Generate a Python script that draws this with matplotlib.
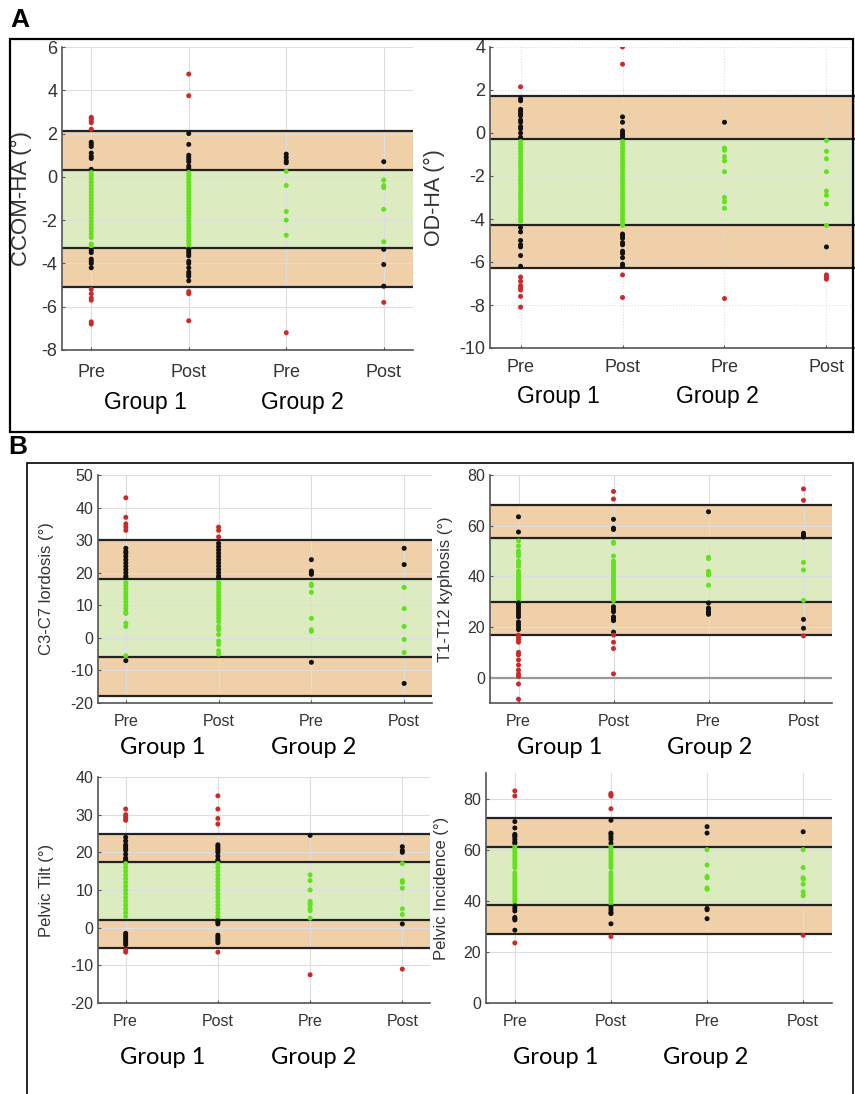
import matplotlib.pyplot as plt
from matplotlib.patches import Rectangle

W, H = 855, 1094

# ---- data ----
phase_labels = ["Pre", "Post", "Pre", "Post"]
group_labels = ["Group 1", "Group 2"]

# band limits: outer top, inner top, inner bottom, outer bottom
ccom_bands = [2.1, 0.3, -3.3, -5.1]
ccom_pre1 = [2.75, 2.7, 2.6, 2.5, 2.2, 1.6, 1.5, 1.4, 1.1, 0.95, 0.85, 0.35, 0.2, 0.05, -0.1,
             -0.25, -0.4, -0.55, -0.7, -0.85, -1.0, -1.15, -1.3, -1.45, -1.6, -1.75, -1.9, -2.05,
             -2.2, -2.35, -2.5, -2.65, -2.8, -3.1, -3.2, -3.4, -3.5, -3.8, -3.9, -4.0, -4.2,
             -5.2, -5.4, -5.6, -5.7, -6.7, -6.8]
ccom_post1 = [4.75, 3.75, 2.0, 1.5, 1.0, 0.9, 0.8, 0.7, 0.5, 0.4, 0.2, 0.05, -0.1, -0.25, -0.4,
              -0.55, -0.7, -0.85, -1.0, -1.15, -1.3, -1.45, -1.6, -1.75, -1.9, -2.05, -2.2, -2.35,
              -2.5, -2.65, -2.8, -2.95, -3.1, -3.25, -3.35, -3.45, -3.55, -3.65, -3.9, -4.0, -4.2,
              -4.4, -4.5, -4.6, -4.8, -5.3, -5.4, -6.65]
ccom_pre2 = [1.05, 0.9, 0.75, 0.65, 0.25, -0.4, -1.6, -2.0, -2.7, -7.2]
ccom_post2 = [0.7, -0.15, -0.4, -0.5, -1.5, -3.0, -3.35, -4.05, -5.05, -5.8]

od_bands = [1.7, -0.3, -4.3, -6.3]
od_pre1 = [2.15, 1.6, 1.5, 1.1, 1.0, 0.9, 0.8, 0.6, 0.5, 0.3, 0.2, 0.0, -0.2, -0.4, -0.55, -0.7,
           -0.85, -1.0, -1.15, -1.3, -1.45, -1.6, -1.75, -1.9, -2.05, -2.2, -2.35, -2.5, -2.65,
           -2.8, -2.95, -3.1, -3.25, -3.4, -3.55, -3.7, -3.85, -4.0, -4.1, -4.4, -4.6, -5.0,
           -5.2, -5.3, -5.7, -6.2, -6.7, -6.9, -7.1, -7.2, -7.3, -7.6, -8.1]
od_post1 = [4.0, 3.2, 0.75, 0.5, 0.1, 0.0, -0.1, -0.2, -0.4, -0.55, -0.7, -0.85, -1.0, -1.15,
            -1.3, -1.45, -1.6, -1.75, -1.9, -2.05, -2.2, -2.35, -2.5, -2.65, -2.8, -2.95, -3.1,
            -3.25, -3.4, -3.55, -3.7, -3.85, -4.0, -4.15, -4.3, -4.7, -4.8, -4.9, -5.1, -5.2,
            -5.5, -5.6, -5.8, -6.1, -6.2, -6.6, -7.65]
od_pre2 = [0.5, -0.7, -0.8, -1.1, -1.3, -1.8, -3.0, -3.2, -3.5, -7.7]
od_post2 = [-0.35, -0.85, -1.2, -1.8, -2.7, -2.9, -3.3, -4.3, -5.3, -6.6, -6.7, -6.8]

lord_bands = [30, 18, -6, -18]
lord_pre1 = [43, 37, 35, 34, 33, 27.5, 26.5, 26, 25, 24, 23, 22, 21, 20, 19, 18.5, 17, 16, 15,
             14, 13, 12, 11, 10, 9, 8, 7.5, 4.5, 3.5, -5.5, -7]
lord_post1 = [34, 33, 31, 29, 28, 27, 26, 25, 24, 23, 22, 21, 20, 19, 18.5, 17, 16, 15, 14, 13,
              12, 11, 10, 9, 8, 7, 6, 5, 3.5, 2.5, 1, -1, -2, -4, -5]
lord_pre2 = [24, 20.5, 20, 19.5, 16.5, 16, 14, 6, 2.5, 2, -7.5]
lord_post2 = [27.5, 22.5, 15.5, 9, 3.5, -0.5, -4.5, -14]

kyph_bands = [68, 55, 30, 17]
kyph_pre1 = [63.5, 57.5, 54, 52, 50, 49, 48, 46, 45, 44, 42, 41, 40, 39, 38, 37, 36, 35, 34, 33,
             32, 31, 30.5, 29.5, 29, 28, 27, 26, 25, 24, 22, 21, 20, 19, 16.8, 16, 15, 14, 10, 9,
             7, 5, 3, 1.5, 0.5, -2.5, -8.5]
kyph_post1 = [73.5, 70.5, 62.5, 59, 58.5, 53.5, 53, 48, 46, 45, 44, 43, 42, 41, 40, 39, 38, 37,
              36, 35, 34, 33, 32, 31, 30.5, 28, 27, 26, 24, 23.5, 23, 22.5, 18, 16.8, 14, 11.5, 1.5]
kyph_pre2 = [65.5, 47.5, 47, 42, 41, 40.5, 36.5, 29.5, 27.5, 27, 26, 25.5, 25]
kyph_post2 = [74.5, 70, 57, 56.5, 56, 55.5, 45.5, 42.5, 30.5, 23, 19.5, 16.5]

tilt_bands = [25, 17.5, 2, -5.5]
tilt_pre1 = [31.5, 30, 29.5, 29, 28.5, 24, 23, 22, 21.5, 21, 20.5, 19.5, 18.5, 18, 17.8, 17, 16,
             15, 14, 13, 12, 11, 10, 9, 8, 7, 6, 5, 4, 3, -1.5, -2, -2.5, -3, -3.5, -4, -4.5,
             -6, -6.5]
tilt_post1 = [35, 31.5, 29, 27.5, 22, 21.5, 21, 20.5, 20, 19, 18, 17.8, 17, 16, 15, 14, 13, 12,
              11, 10, 9, 8, 7, 6, 5, 4, 3, 2.5, 1.8, 1.5, 1, -2, -2.5, -3, -3.5, -4, -6.5]
tilt_pre2 = [24.5, 14, 12.5, 10, 7, 6.5, 6, 5, 4.5, 2.5, -12.5]
tilt_post2 = [21.5, 20.5, 20, 17, 12.5, 12, 10.5, 5, 3.5, 1, -11]

inc_bands = [72.5, 61, 38.5, 27]
inc_pre1 = [83, 81, 71, 68.5, 66, 65.5, 65, 64, 63, 62.5, 61, 60, 59, 58, 57, 56, 55, 54, 53, 51,
            50, 49, 48, 47, 46, 45, 44, 43, 42, 41, 40, 39, 38, 37, 36, 33.5, 33, 32.5, 28.5, 23.5]
inc_post1 = [82, 81.5, 81, 76, 71.5, 66.5, 66, 65, 64, 62.5, 61, 60, 59, 58, 57, 56, 55, 54, 53,
             51, 50, 49, 48, 47, 46, 45, 44, 43, 42, 41, 40, 39, 37.5, 36.5, 35.5, 35, 31, 26]
inc_pre2 = [69, 66.5, 60, 54, 49.5, 49, 45, 44.5, 37, 36.5, 33]
inc_post2 = [67, 60, 53, 49, 48.5, 46.5, 43.5, 42, 26.5]

ORANGE = "#f0d0a8"
LGREEN = "#dcecc0"
RED = "#cc2a2a"
GREEN = "#62e21e"
BLACK = "#111111"


def px_axes(fig, left, top, right, bottom):
    return fig.add_axes([left / W, 1 - bottom / H, (right - left) / W, (bottom - top) / H])


def dot_color(v, bands):
    out_hi, in_hi, in_lo, out_lo = bands
    if in_lo <= v <= in_hi:
        return GREEN
    if out_lo <= v <= out_hi:
        return BLACK
    return RED


def panel(ax, columns, bands, ylim, yticks, xlim, tick_fs, dotted=False, zero_line=False):
    out_hi, in_hi, in_lo, out_lo = bands
    ax.axhspan(in_hi, out_hi, color=ORANGE, zorder=0.2, lw=0)
    ax.axhspan(in_lo, in_hi, color=LGREEN, zorder=0.2, lw=0)
    ax.axhspan(out_lo, in_lo, color=ORANGE, zorder=0.2, lw=0)
    for b in bands:
        ax.axhline(b, color="#222222", lw=1.6, zorder=2)
    if zero_line:
        ax.axhline(0, color="#999999", lw=1.6, zorder=2)
    for i, col in enumerate(columns):
        ax.scatter([i + 1] * len(col), col, c=[dot_color(v, bands) for v in col],
                   s=13, linewidths=0, zorder=3)
    ax.set_xlim(*xlim)
    ax.set_ylim(*ylim)
    ax.set_yticks(yticks)
    ax.set_xticks([1, 2, 3, 4])
    ax.set_xticklabels(phase_labels)
    ax.set_axisbelow("line")
    ax.grid(True, color="#dddddd", lw=0.8, ls=":" if dotted else "-")
    for s in ["top", "right"]:
        ax.spines[s].set_visible(False)
    for s in ["left", "bottom"]:
        ax.spines[s].set_color("#555555")
        ax.spines[s].set_linewidth(1.2)
    ax.tick_params(colors="#555555", labelcolor="#333333", labelsize=tick_fs,
                   direction="in", length=2)


def put_ylabel(ax, text, center_px, left, right, fs):
    ax.set_ylabel(text, fontsize=fs, color="#333333", va="center")
    ax.yaxis.set_label_coords((center_px - left) / (right - left), 0.5)


plt.rcParams["font.family"] = ["Liberation Sans", "DejaVu Sans"]
plt.rcParams["axes.unicode_minus"] = False
fig = plt.figure(figsize=(W / 100, H / 100), dpi=100)

# panel frames and letters
fig.patches.append(Rectangle((10 / W, 1 - 432 / H), 843 / W, 393 / H, transform=fig.transFigure,
                             fill=False, ec="black", lw=1.6))
fig.patches.append(Rectangle((27 / W, -0.01), 826 / W, 1 - 463 / H + 0.01,
                             transform=fig.transFigure, fill=False, ec="black", lw=1.2))
fig.text(10 / W, 1 - 20 / H, "A", fontsize=19, fontweight="bold", va="center", ha="left")
fig.text(8 / W, 1 - 447 / H, "B", fontsize=19, fontweight="bold", va="center", ha="left")

# ---- panel A ----
ax = px_axes(fig, 62, 47, 413, 350)
panel(ax, [ccom_pre1, ccom_post1, ccom_pre2, ccom_post2], ccom_bands, (-8, 6),
      range(-8, 7, 2), (0.7, 4.3), 13)
ax.tick_params(axis="x", pad=10)
put_ylabel(ax, "CCOM-HA (°)", 21, 62, 413, 16)
fig.text(145 / W, 1 - 403 / H, group_labels[0], fontsize=16.5, ha="center", va="center")
fig.text(302 / W, 1 - 403 / H, group_labels[1], fontsize=16.5, ha="center", va="center")

ax = px_axes(fig, 490, 47, 855, 348)
panel(ax, [od_pre1, od_post1, od_pre2, od_post2], od_bands, (-10, 4),
      range(-10, 5, 2), (0.7, 4.28), 13, dotted=True)
ax.tick_params(axis="x", pad=8)
put_ylabel(ax, "OD-HA (°)", 434, 490, 855, 15.5)
fig.text(558 / W, 1 - 397 / H, group_labels[0], fontsize=16.5, ha="center", va="center")
fig.text(717 / W, 1 - 397 / H, group_labels[1], fontsize=16.5, ha="center", va="center")

# ---- panel B ----
b_specs = [
    ((98, 475, 432, 703), [lord_pre1, lord_post1, lord_pre2, lord_post2], lord_bands,
     (-20, 50), range(-20, 51, 10), "C3-C7 lordosis (°)", 47, (163, 314), 748, False),
    ((490, 475, 832, 703), [kyph_pre1, kyph_post1, kyph_pre2, kyph_post2], kyph_bands,
     (-10, 80), range(0, 81, 20), "T1-T12 kyphosis (°)", 445, (560, 710), 748, True),
    ((98, 777, 430, 1003), [tilt_pre1, tilt_post1, tilt_pre2, tilt_post2], tilt_bands,
     (-20, 40), range(-20, 41, 10), "Pelvic Tilt (°)", 47, (163, 314), 1058, False),
    ((486, 773, 832, 1003), [inc_pre1, inc_post1, inc_pre2, inc_post2], inc_bands,
     (0, 90), range(0, 81, 20), "Pelvic Incidence (°)", 441, (556, 706), 1058, False),
]
for (l, t, r, b), cols, bands, ylim, yt, ylab, ylab_x, gx, gy, zero in b_specs:
    ax = px_axes(fig, l, t, r, b)
    panel(ax, cols, bands, ylim, yt, (0.7, 4.3), 11.5, zero_line=zero)
    ax.tick_params(axis="x", pad=8)
    put_ylabel(ax, ylab, ylab_x, l, r, 12)
    for x, g in zip(gx, group_labels):
        fig.text(x / W, 1 - gy / H, g, fontsize=17, ha="center", va="center",
                 family=["Lato", "DejaVu Sans"])

fig.savefig("out.png", dpi=100)
